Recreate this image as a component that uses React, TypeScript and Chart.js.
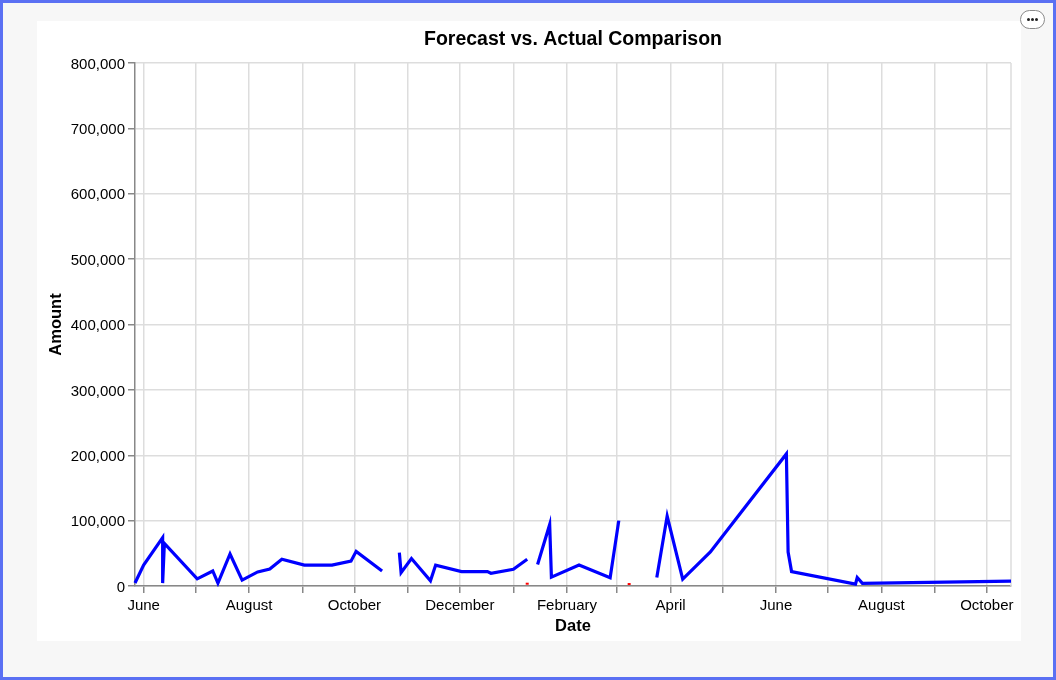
import React, { useEffect, useRef } from 'react';
import { Chart, registerables } from 'chart.js';

Chart.register(...registerables);

// ---- Data ----
const actualDates: string[] = [
  '2023-05-27', '2023-06-01', '2023-06-12', '2023-06-12', '2023-06-13',
  '2023-07-02', '2023-07-11', '2023-07-14', '2023-07-21', '2023-07-28',
  '2023-08-06', '2023-08-13', '2023-08-20', '2023-09-02', '2023-09-18',
  '2023-09-29', '2023-10-02', '2023-10-17', '2023-10-22',
  '2023-10-27', '2023-10-28', '2023-11-03', '2023-11-14', '2023-11-17',
  '2023-12-02', '2023-12-17', '2023-12-19', '2024-01-01', '2024-01-09', '2024-01-12',
  '2024-01-15', '2024-01-22', '2024-01-23', '2024-02-08', '2024-02-26', '2024-03-02', '2024-03-12',
  '2024-03-24', '2024-03-30', '2024-04-08', '2024-04-24', '2024-06-07',
  '2024-06-08', '2024-06-10', '2024-07-17', '2024-07-18', '2024-07-21', '2024-10-15',
];
const actualValues: (number | null)[] = [
  4500, 32000, 74000, 4500, 65000,
  11000, 23000, 4500, 49000, 9000,
  21500, 26000, 41000, 32000, 32000,
  38000, 53000, 23000, null,
  51000, 20500, 42000, 8000, 32000,
  22000, 22000, 19500, 25500, 41000, null,
  33000, 94000, 13500, 32000, 12500, 100000, null,
  13000, 107000, 10500, 52000, 202000,
  52000, 22000, 3000, 13000, 4000, 7500,
];
const forecastDates: string[] = ['2024-01-09', '2024-03-08'];
const forecastValues: number[] = [3500, 3000];

const xTickDates: string[] = [
  '2023-06-01', '2023-07-01', '2023-08-01', '2023-09-01', '2023-10-01', '2023-11-01',
  '2023-12-01', '2024-01-01', '2024-02-01', '2024-03-01', '2024-04-01', '2024-05-01',
  '2024-06-01', '2024-07-01', '2024-08-01', '2024-09-01', '2024-10-01',
];
const monthNames: string[] = [
  'January', 'February', 'March', 'April', 'May', 'June',
  'July', 'August', 'September', 'October', 'November', 'December',
];
const yMin = 0;
const yMax = 800000;
const yStep = 100000;

const chartTitle = 'Forecast vs. Actual Comparison';
const xTitle = 'Date';
const yTitle = 'Amount';

const toMs = (d: string) => Date.parse(d + 'T00:00:00Z');
const FONT = "'Liberation Sans', Arial, Helvetica, sans-serif";

const dotStyle: React.CSSProperties = {
  width: 3,
  height: 3,
  borderRadius: '50%',
  background: '#222',
  margin: '0 0.5px',
};

export default function App() {
  const ref = useRef<HTMLCanvasElement | null>(null);

  useEffect(() => {
    if (!ref.current) return;
    const actualPts = actualDates.map((d, i) => ({ x: toMs(d), y: actualValues[i] }));
    const forecastPts = forecastDates.map((d, i) => ({ x: toMs(d), y: forecastValues[i] }));
    const tickMs = xTickDates.map(toMs);

    const rightEdge = {
      id: 'rightEdge',
      beforeDatasetsDraw(chart: any) {
        const { ctx, chartArea: a } = chart;
        ctx.save();
        ctx.strokeStyle = '#dddddd';
        ctx.lineWidth = 1.5;
        ctx.beginPath();
        ctx.moveTo(a.right, a.top);
        ctx.lineTo(a.right, a.bottom);
        ctx.stroke();
        ctx.restore();
      },
    };

    const chart = new Chart(ref.current, {
      type: 'line',
      data: {
        datasets: [
          {
            label: 'Actual',
            data: actualPts as any,
            borderColor: '#0000ff',
            backgroundColor: '#0000ff',
            borderWidth: 3.2,
            pointRadius: 0,
            spanGaps: false,
            tension: 0,
            clip: false as any,
          },
          {
            label: 'Forecast',
            data: forecastPts as any,
            borderColor: '#ff0000',
            backgroundColor: '#ff0000',
            borderWidth: 2,
            pointStyle: 'line',
            pointRadius: 1.5,
            showLine: false,
            clip: false as any,
          },
        ],
      },
      options: {
        responsive: false,
        animation: false,
        layout: { padding: { left: 0, right: 10, top: 0, bottom: 0 } },
        plugins: {
          legend: { display: false },
          tooltip: { enabled: false },
          title: {
            display: true,
            text: chartTitle,
            fullSize: false,
            color: '#000',
            font: { family: FONT, size: 19.5, weight: 'bold' },
            padding: { top: 7.3, bottom: 11.3 },
          },
        },
        scales: {
          x: {
            type: 'linear',
            bounds: 'data',
            min: toMs(actualDates[0]),
            max: toMs(actualDates[actualDates.length - 1]),
            afterBuildTicks: (scale: any) => {
              scale.ticks = tickMs.map((v) => ({ value: v }));
            },
            afterFit: (scale: any) => {
              scale.height = 55;
            },
            ticks: {
              autoSkip: false,
              maxRotation: 0,
              padding: 4,
              color: '#000',
              font: { family: FONT, size: 15 },
              callback: (v: any) => {
                const i = tickMs.indexOf(Number(v));
                if (i < 0 || i % 2 !== 0) return '';
                return monthNames[new Date(Number(v)).getUTCMonth()];
              },
            },
            grid: { color: '#dddddd', lineWidth: 1.5, tickColor: '#888888', tickLength: 7 },
            border: { color: '#888888', width: 1.5 },
            title: {
              display: true,
              text: xTitle,
              color: '#000',
              font: { family: FONT, size: 16.5, weight: 'bold' },
              padding: { top: 0, bottom: 4.3 },
            },
          },
          y: {
            type: 'linear',
            min: yMin,
            max: yMax,
            afterFit: (scale: any) => {
              scale.width = 98;
            },
            ticks: {
              stepSize: yStep,
              padding: 3,
              labelOffset: 1.5,
              color: '#000',
              font: { family: FONT, size: 15 },
              callback: (v: any) => Number(v).toLocaleString('en-US'),
            },
            grid: { color: '#dddddd', lineWidth: 1.5, tickColor: '#888888', tickLength: 7 },
            border: { color: '#888888', width: 1.5 },
            title: {
              display: true,
              text: yTitle,
              color: '#000',
              font: { family: FONT, size: 16.5, weight: 'bold' },
              padding: { top: 9.6, bottom: 0 },
            },
          },
        },
      },
      plugins: [rightEdge],
    });
    return () => chart.destroy();
  }, []);

  return (
    <div
      style={{
        position: 'fixed',
        left: 0,
        top: 0,
        width: 1056,
        height: 680,
        boxSizing: 'border-box',
        border: '3px solid #5b70f3',
        background: '#f7f7f7',
      }}
    >
      <div
        style={{
          position: 'absolute',
          left: 34,
          top: 18,
          width: 984,
          height: 620,
          background: '#ffffff',
        }}
      >
        <canvas ref={ref} width={984} height={620} style={{ display: 'block' }} />
      </div>
      <div
        style={{
          position: 'absolute',
          left: 1017,
          top: 7,
          width: 25,
          height: 19,
          borderRadius: 10,
          border: '1.5px solid #8a8a8a',
          background: '#fff',
          boxSizing: 'border-box',
          display: 'flex',
          alignItems: 'center',
          justifyContent: 'center',
        }}
      >
        <span style={dotStyle} />
        <span style={dotStyle} />
        <span style={dotStyle} />
      </div>
    </div>
  );
}
